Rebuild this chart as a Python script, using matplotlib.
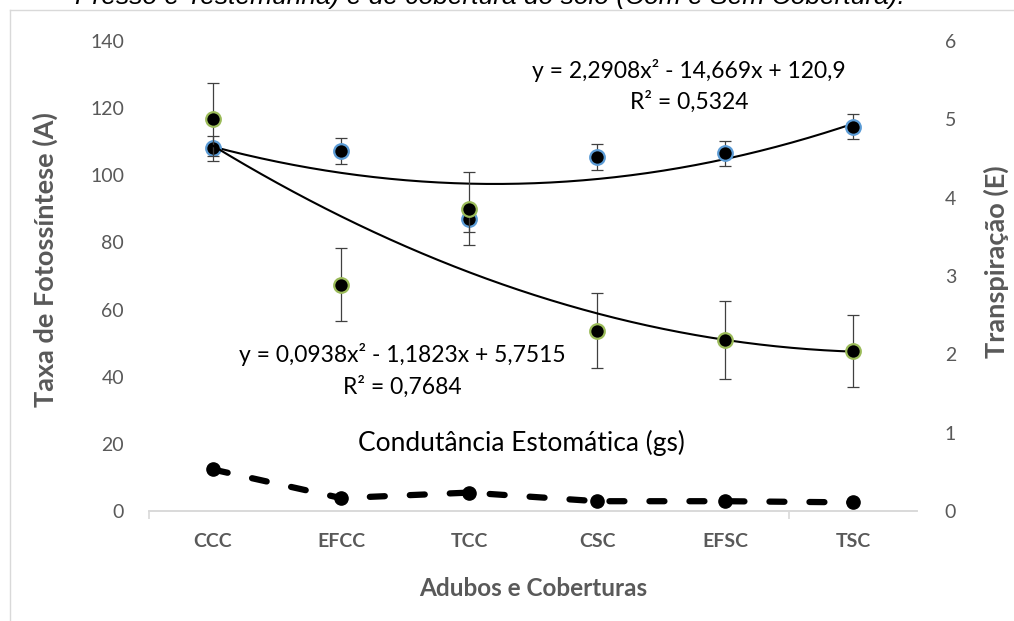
import numpy as np
import matplotlib
matplotlib.use('Agg')
import matplotlib.pyplot as plt
from matplotlib.lines import Line2D

# categorias (tratamentos)
categorias = ['CCC', 'EFCC', 'TCC', 'CSC', 'EFSC', 'TSC']

# Taxa de Fotossíntese (A) - eixo esquerdo
fotossintese = [108.0, 107.3, 86.9, 105.4, 106.5, 114.5]
fotossintese_erro = [3.8, 3.8, 3.8, 3.8, 3.8, 3.8]

# Transpiração (E) - eixo direito
transpiracao = [5.0, 2.89, 3.86, 2.30, 2.18, 2.04]
transpiracao_erro = [0.47, 0.47, 0.47, 0.48, 0.50, 0.46]

# Condutância Estomática (gs) - eixo direito
condutancia = [0.53, 0.165, 0.235, 0.125, 0.125, 0.11]

# coeficientes das linhas de tendência (polinomial ordem 2)
coef_A = [2.2908, -14.669, 120.9]
coef_E = [0.0938, -1.1823, 5.7515]

cinza = '#595959'
plt.rcParams['font.family'] = ['Lato', 'DejaVu Sans']

fig = plt.figure(figsize=(10.14, 6.21), dpi=100)
ax = fig.add_axes([149/1014, 110/621, 768/1014, 470/621])
ax2 = ax.twinx()

x = np.arange(1, len(categorias) + 1)
xs = np.linspace(1, 6, 200)

# fotossintese
ax.errorbar(x, fotossintese, yerr=fotossintese_erro, fmt='none', ecolor='#404040',
            elinewidth=0.9, capsize=4.5, capthick=0.9, zorder=2)
ax.plot(x, fotossintese, 'o', color='black', markersize=10.5, markeredgecolor='#5b9bd5',
        markeredgewidth=1.6, zorder=3)
ax.plot(xs, np.polyval(coef_A, xs), color='black', lw=1.5, zorder=2)

# transpiracao
ax2.errorbar(x, transpiracao, yerr=transpiracao_erro, fmt='none', ecolor='#404040',
             elinewidth=0.9, capsize=4.5, capthick=0.9, zorder=2)
ax2.plot(x, transpiracao, 'o', color='black', markersize=10.5, markeredgecolor='#9bbb59',
         markeredgewidth=1.6, zorder=3)
ax2.plot(xs, np.polyval(coef_E, xs), color='black', lw=1.5, zorder=2)

# condutancia
ln, = ax2.plot(x, condutancia, color='black', lw=4.5, marker='o', markersize=9.5,
               dash_capstyle='round', zorder=3)
ln.set_dashes((2.4, 4.0))

ax.set_xlim(0.5, 6.5)
ax.set_ylim(0, 140)
ax2.set_ylim(0, 6)
ax.set_yticks(np.arange(0, 141, 20))
ax2.set_yticks(np.arange(0, 7, 1))

for a in (ax, ax2):
    for s in ['top', 'left', 'right']:
        a.spines[s].set_visible(False)
    a.spines['bottom'].set_color('#d9d9d9')
    a.spines['bottom'].set_linewidth(1.2)
    a.tick_params(axis='y', length=0, labelsize=14, labelcolor=cinza)

ax2.tick_params(axis='y', pad=20)
ax.tick_params(axis='y', pad=18)

ax.set_xticks([0.5, 5.5])
ax.set_xticklabels(['', ''])
ax.tick_params(axis='x', length=6, color='#d9d9d9', width=1.2)
for i, c in enumerate(categorias):
    ax.text(x[i], -0.065, c, transform=ax.get_xaxis_transform(), ha='center', va='center',
            fontsize=14, fontweight='bold', color=cinza)

ax.text(0.5, -0.165, 'Adubos e Coberturas', transform=ax.transAxes, ha='center', va='center',
        fontsize=17.5, fontweight='bold', color=cinza)
fig.text(45/1014, 1 - 260/621, 'Taxa de Fotossíntese (A)', rotation=90, ha='center', va='center',
         fontsize=19.5, fontweight='bold', color=cinza)
fig.text(996/1014, 1 - 262/621, 'Transpiração (E)', rotation=90, ha='center', va='center',
         fontsize=19.5, fontweight='bold', color=cinza)

# equações
fig.text(689/1014, 1 - 70/621, 'y = 2,2908x² - 14,669x + 120,9', ha='center', va='center',
         fontsize=16.5, color='black')
fig.text(689/1014, 1 - 102/621, 'R² = 0,5324', ha='center', va='center',
         fontsize=16.5, color='black')
fig.text(402/1014, 1 - 355/621, 'y = 0,0938x² - 1,1823x + 5,7515', ha='center', va='center',
         fontsize=16.5, color='black')
fig.text(402/1014, 1 - 387/621, 'R² = 0,7684', ha='center', va='center',
         fontsize=16.5, color='black')
fig.text(521/1014, 1 - 443/621, 'Condutância Estomática (gs)', ha='center', va='center',
         fontsize=19, color='black')

# moldura e titulo cortado
fig.add_artist(Line2D([10/1014, 1], [1 - 10/621, 1 - 10/621], color='#d9d9d9', lw=1))
fig.add_artist(Line2D([10/1014, 10/1014], [0, 1 - 10/621], color='#d9d9d9', lw=1))
fig.text(490/1014, 1 - 4/621, 'Presso e Testemunha) e de cobertura do solo (Com e Sem Cobertura).',
         ha='center', va='baseline', fontsize=19, fontstyle='italic',
         family=['Liberation Sans', 'DejaVu Sans'], color='black')

fig.savefig('out.png', dpi=100)
